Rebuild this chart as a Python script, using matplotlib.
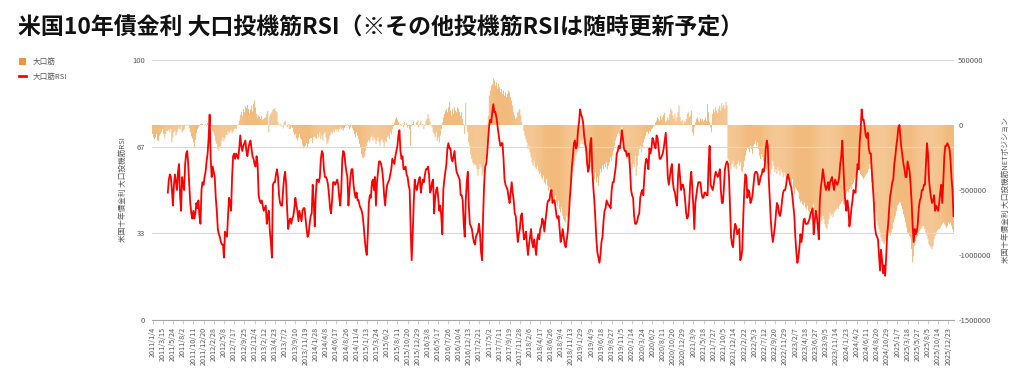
import numpy as np
import pandas as pd
import matplotlib
matplotlib.use("Agg")
import matplotlib.pyplot as plt
from matplotlib.patches import Patch
from matplotlib.lines import Line2D

plt.rcParams['font.family'] = ['Noto Sans CJK JP', 'DejaVu Sans']

title = "米国10年債金利 大口投機筋RSI（※その他投機筋RSIは随時更新予定）"
left_label = "米国十年債金利 大口投機筋RSI"
right_label = "米国十年債金利 大口投機筋NETポジション"
bar_name = "大口筋"
line_name = "大口筋RSI"

# 週次の日付 (2018年末に1週欠け)
dates = pd.date_range("2011-01-04", periods=787, freq="7D")
dates = dates[dates != pd.Timestamp("2019-01-01")]

# 大口筋 ネットポジション (千枚)
net_k = [
    -69, -95, -108, -95, -69, -121, -121, -82, -69, -56,
    -31, -69, -95, -69, -44, -44, -36, -56, -31, -133,
    -95, -56, -44, -82, -56, -31, -18, -36, -5, -56,
    -44, -31, -5, -5, 3, -5, -26, -56, -87, -103,
    -133, -172, -113, -62, -31, -18, -5, 5, 13, 10,
    0, -5, 5, -5, 18, -5, -10, -5, -18, -44,
    -56, -82, -121, -146, -185, -198, -172, -159, -121, -95,
    -128, -103, -74, -77, -49, -64, -51, -36, -64, -51,
    -31, -23, -31, -5, 8, 33, 77, 98, 72, 123,
    98, 144, 128, 154, 123, 90, 118, 149, 105, 162,
    187, 136, 85, 51, 77, 64, 46, 72, 41, 46,
    54, 59, 82, 108, -56, 67, 85, 98, 116, 123,
    128, 108, 98, 21, -5, 8, -13, 0, -26, 21,
    31, -5, -18, 8, -31, -31, -10, -23, -56, -77,
    -69, -103, -121, -95, -69, -103, -113, -154, -180, -172,
    -159, -139, -172, -146, -108, -100, -100, -140, -95, -90,
    -100, -108, -69, -95, -56, -108, -82, -121, -69, -56,
    -95, -146, -133, -108, -82, -56, -69, -44, -56, -31,
    -44, -31, -51, -31, -18, -36, -26, -44, -23, -10,
    -5, 5, -10, -31, -18, -5, -26, -44, -69, -95,
    -56, -82, -108, -146, -172, -223, -249, -257, -241, -198,
    -159, -133, -116, -133, -95, -82, -121, -95, -108, -146,
    -121, -95, -133, -159, -121, -108, -133, -172, -121, -133,
    -95, -82, -108, -56, -69, -31, -10, 21, 46, 59,
    41, 21, 0, 8, -5, 3, -18, 21, 0, 15,
    -18, -5, -31, -159, -10, 8, 26, -5, 0, 21,
    36, -18, 8, 33, -5, 8, -31, -5, 33, 46,
    85, 51, 26, 0, -18, -56, -69, -95, -56, -121,
    -95, -133, -82, -31, 21, 59, 85, 110, 123, 98,
    136, 180, 110, 72, 123, 85, 136, 110, 98, 136,
    123, 98, 72, 98, 46, 8, -69, 169, -5, -56,
    -133, -159, -230, -260, -290, -310, -300, -313, -339, -390,
    -339, -300, -326, -390, -365, -313, -262, -211, -134, 72,
    226, 265, 303, 316, 360, 342, 303, 329, 277, 316,
    290, 252, 277, 239, 265, 226, 252, 213, 239, 265,
    252, 213, 187, 149, 98, 72, 46, 59, 98, 110,
    123, 72, 21, 0, -44, -82, -108, -134, -185, -159,
    -211, -249, -288, -313, -275, -326, -339, -313, -352, -377,
    -365, -403, -416, -390, -442, -455, -416, -467, -506, -480,
    -532, -557, -519, -570, -583, -544, -596, -621, -583, -647,
    -673, -634, -698, -724, -737, -750, -698, -711, -647, -596,
    -544, -416, -365, -313, -275, -236, -211, -185, -172, -146,
    -121, -146, -108, -159, -198, -236, -275, -313, -339, -288,
    -365, -390, -339, -416, -365, -442, -403, -467, -390, -339,
    -365, -313, -339, -300, -326, -288, -339, -313, -288, -249,
    -275, -236, -198, -159, -121, -95, -69, -56, -82, -69,
    -18, -44, -146, -185, -236, -262, -211, -288, -313, -262,
    -339, -300, -326, -236, -390, -313, -236, -185, -159, -211,
    -172, -134, -108, -82, -56, -51, -69, -44, -56, -31,
    -26, -10, -5, 21, 33, 59, 46, 33, 72, 41,
    59, 77, 92, 21, 33, 59, 41, 85, 128, 110,
    72, 46, 85, 33, 59, 98, 149, 59, 26, 41,
    8, 33, 21, 46, 85, 98, 59, 72, 110, -56,
    -82, -18, 21, 46, 59, 33, 21, 51, 33, 46,
    26, 41, 59, 33, 162, 98, 21, -18, -56, 85,
    123, 98, 136, 110, 92, 123, 149, 110, 169, 136,
    154, 123, 180, 149, -262, -275, -313, -339, -300, -275,
    -326, -313, -339, -300, -275, -313, -288, -352, -365, -326,
    -275, -236, -198, -172, -185, -211, -159, -185, -223, -159,
    -146, -121, -159, -134, -185, -236, -262, -223, -249, -275,
    -313, -288, -339, -300, -365, -313, -377, -339, -275, -313,
    -365, -339, -377, -326, -352, -390, -339, -365, -403, -365,
    -390, -429, -390, -416, -377, -429, -467, -416, -493, -532,
    -480, -493, -506, -519, -570, -596, -583, -609, -621, -596,
    -634, -647, -621, -660, -673, -647, -686, -634, -609, -660,
    -698, -711, -673, -737, -750, -711, -737, -698, -724, -763,
    -788, -801, -763, -724, -673, -698, -686, -711, -673, -660,
    -647, -634, -647, -621, -609, -596, -583, -609, -570, -544,
    -519, -506, -519, -493, -480, -493, -455, -442, -416, -403,
    -365, -339, -313, -352, -377, -390, -403, -416, -403, -390,
    -377, -365, -339, -300, -339, -442, -493, -570, -621, -673,
    -737, -775, -801, -827, -865, -891, -904, -917, -891, -878,
    -865, -853, -840, -853, -827, -801, -750, -724, -698, -660,
    -621, -609, -596, -596, -621, -647, -686, -711, -750, -788,
    -827, -840, -853, -865, -955, -1058, -1007, -930, -891, -865,
    -853, -827, -814, -801, -788, -775, -775, -801, -827, -853,
    -878, -917, -930, -942, -955, -930, -878, -853, -827, -814,
    -801, -801, -788, -775, -763, -750, -763, -775, -788, -775,
    -750, -763, -750, -775, -801, -827,
]

# 大口筋 RSI (最初の15週は計算期間)
nan = np.nan
rsi = [nan] * 15 + [
    49, 54, 56, 55, 50, 44, 52, 56, 53, 50,
    57, 60, 48, 42, 55, 52, 50, 60, 64, 65,
    60, 52, 45, 41, 39, 42, 39, 41, 45, 43,
    46, 40, 37, 50, 53, 52, 55, 57, 61, 64,
    70, 79, 62, 55, 59, 57, 55, 47, 42, 35,
    33, 32, 30, 29, 29, 24, 34, 33, 32, 40,
    47, 45, 42, 55, 63, 64, 62, 64, 63, 62,
    66, 71, 67, 65, 67, 68, 69, 65, 63, 66,
    68, 69, 66, 63, 62, 60, 59, 63, 60, 48,
    46, 45, 46, 44, 42, 43, 44, 37, 40, 42,
    34, 30, 24, 52, 53, 53, 56, 58, 55, 48,
    45, 44, 44, 50, 55, 57, 52, 42, 35, 38,
    39, 37, 39, 40, 43, 47, 44, 42,
    38, 42, 40, 38, 42, 43, 43, 39, 35, 32, 33, 37,
    40, 41, 52, 45, 36, 48, 54, 54,
    53, 55, 62, 65, 64, 58, 55, 55, 54, 52,
    48, 43, 41, 46, 53, 53, 52, 53, 54, 52,
    47, 44, 50, 62, 65, 64, 60, 57, 55, 44,
    50, 55, 58, 58, 52, 49, 47, 49, 46, 46,
    44, 43, 42, 40, 36, 31, 27, 25, 33, 45,
    48, 47, 53, 54, 50, 55, 44, 53, 57, 61,
    61, 60, 58, 54, 48, 44, 49, 52, 53, 54,
    56, 58, 62, 61, 60, 63, 65, 67, 71, 73,
    65, 62, 63, 58, 58, 59, 56, 55, 52, 50,
    35, 23, 33, 45, 54, 51, 50, 52, 54, 55,
    49, 52, 54, 53, 56, 58, 58, 59, 56, 49,
    50, 53, 54, 41, 47, 50, 51, 47, 42, 44,
    40, 33, 50, 54, 57, 60, 66, 68, 66, 66,
    62, 61, 63, 65, 60, 57, 56, 55, 54, 48,
    48, 46, 37, 32, 46, 53, 57, 44, 37, 36,
    35, 32, 30, 29, 32, 33, 34, 37, 33, 26,
    23, 40, 52, 59, 60, 64, 70, 75, 77, 76,
    80, 83, 80, 80, 78, 75, 72, 69, 67, 68, 68,
    62, 54, 52, 51, 50, 47, 45, 49, 53, 49,
    46, 41, 40, 35, 30, 33, 35, 40, 41, 36,
    31, 32, 34, 29, 25, 29, 32, 35, 30, 28,
    31, 28, 25, 31, 33, 31, 35, 36, 39, 38,
    34, 38, 41, 45, 46, 46, 49, 50, 45, 46,
    46, 43, 40, 39, 40, 35, 30, 32, 35, 32,
    29, 28, 31, 34, 40, 47, 52, 59, 63, 68,
    69, 66, 67, 73, 76, 81, 79, 78, 76, 71,
    68, 66, 60, 57, 59, 68, 70, 58, 51, 46,
    39, 31, 26, 24, 22, 25, 30, 32, 38, 42,
    43, 46, 45, 44, 44, 43, 50, 53, 53, 56,
    59, 64, 65, 67, 66, 69, 73, 70, 66, 65,
    65, 63, 64, 64, 58, 50, 48, 47, 40, 37,
    37, 38, 40, 41, 47, 49, 50, 48, 55, 60,
    62, 61, 58, 66, 64, 66, 70, 69, 67, 66,
    71, 70, 66, 62, 62, 63, 64, 66, 69, 72,
    65, 55, 52, 55, 58, 60, 53, 50, 49, 46,
    44, 55, 60, 55, 50, 52, 52, 50, 46, 41,
    39, 40, 45, 53, 57, 51, 44, 35, 45, 48,
    51, 53, 53, 53, 49, 47, 47, 49, 49, 48, 48,
    60, 67, 52, 51, 50, 52, 55, 57, 56, 55,
    56, 58, 50, 45, 45, 51, 58, 60, 61, 60,
    55, 43, 32, 29, 28, 34, 37, 36, 33, 34,
    35, 23, 24, 27, 40, 50, 56, 55, 47, 50,
    49, 45, 46, 48, 52, 56, 57, 57, 56, 52,
    53, 55, 56, 58, 57, 59, 66, 69, 67, 54,
    46, 38, 33, 30, 33, 36, 41, 45, 44, 41,
    40, 42, 46, 49, 50, 50, 52, 55, 56, 54,
    52, 51, 48, 44, 40, 32,
    26, 22, 24, 28, 33, 30, 33, 38, 39, 37,
    37, 37, 38, 39, 41, 42, 43, 33, 38, 42,
    40, 36, 31, 46, 51, 54, 58, 55, 52, 50,
    51, 53, 50, 53, 54, 55, 52, 50, 54, 53,
    52, 53, 55, 60, 63, 69, 60, 51, 45, 42,
    46, 43, 36, 39, 43, 46, 50, 49, 49, 55,
    60, 58, 68, 73, 81, 77, 77, 74, 71, 70,
    72, 66, 64, 64, 57, 51, 45, 36, 33, 32,
    31, 25, 19, 27, 23, 18, 21, 17, 24, 33,
    37, 43, 48, 50, 53, 54, 60, 63, 67, 70,
    74, 75, 70, 66, 63, 60, 58, 55, 55, 61,
    59, 57, 52, 45, 36, 30, 35, 33, 34, 37,
    43, 46, 47, 50, 50, 52, 52, 60, 68, 64,
    54, 50, 47, 45, 46, 48, 42, 44, 43, 42,
    45, 49, 52, 45, 53, 63, 67, 67, 68, 67,
    66, 62, 55, 50, 40,
]

assert len(net_k) == len(dates), (len(net_k), len(dates))
assert len(rsi) == len(dates), (len(rsi), len(dates))

rsi_ticks = [0, 100 / 3, 200 / 3, 100]
rsi_tick_labels = ["0", "33", "67", "100"]
net_ticks = [-1500000, -1000000, -500000, 0, 500000]

bar_color = "#EC9636"
line_color = "#FF0000"
text_color = "#595959"

x = np.arange(len(dates))
net = np.array(net_k) * 1000

fig = plt.figure(figsize=(10.24, 3.8), dpi=100)
ax = fig.add_axes([152 / 1024, 60 / 380, 802 / 1024, 260 / 380])
ax2 = ax.twinx()

# 棒 (右軸)
ax.bar(x, net, width=0.7, color=bar_color, alpha=0.9, linewidth=0,
       snap=False, antialiased=True)
ax.set_ylim(-1500000, 500000)
ax.set_xlim(-0.5, len(x) - 0.5)
ax.yaxis.tick_right()
ax.yaxis.set_label_position("right")
ax.set_yticks(net_ticks)
ax.set_yticklabels([str(v) for v in net_ticks])
ax.set_ylabel(right_label, fontsize=5.5, color=text_color, rotation=90, labelpad=8)
ax.tick_params(axis="y", length=0, labelsize=5.5, labelcolor=text_color, pad=3)

ax.set_xticks(x[::10])
ax.set_xticklabels([f"{d.year}/{d.month}/{d.day}" for d in dates[::10]],
                   rotation=90, fontsize=5.2, color=text_color)
ax.tick_params(axis="x", length=3, width=0.5, color="#bfbfbf", pad=2)

for s in ["top", "left", "right"]:
    ax.spines[s].set_visible(False)
ax.spines["bottom"].set_color("#a6a6a6")
ax.spines["bottom"].set_linewidth(0.8)

# RSI (左軸)
ax2.yaxis.tick_left()
ax2.yaxis.set_label_position("left")
ax2.plot(x, rsi, color=line_color, linewidth=1.3)
ax2.set_ylim(0, 100)
ax2.set_yticks(rsi_ticks)
ax2.set_yticklabels(rsi_tick_labels)
ax2.grid(axis="y", color="#d9d9d9", linewidth=0.8)
ax2.set_ylabel(left_label, fontsize=5.5, color=text_color, rotation=90, labelpad=4)
ax2.tick_params(axis="y", length=0, labelsize=5.5, labelcolor=text_color, pad=5)
for s in ["top", "left", "right", "bottom"]:
    ax2.spines[s].set_visible(False)

# タイトルと凡例
fig.text(0.018, 0.926, title, fontsize=16.5, fontweight="bold", va="center", color="#111111")

handles = [Patch(facecolor=bar_color, edgecolor="none"),
           Line2D([0], [0], color=line_color, linewidth=2)]
fig.legend(handles, [bar_name, line_name], loc="upper left",
           bbox_to_anchor=(0.012, 0.865), frameon=False, fontsize=5.5,
           handlelength=0.9, handleheight=0.9, handletextpad=0.8,
           labelspacing=0.9, labelcolor=text_color)

fig.savefig("out.png", dpi=100)
